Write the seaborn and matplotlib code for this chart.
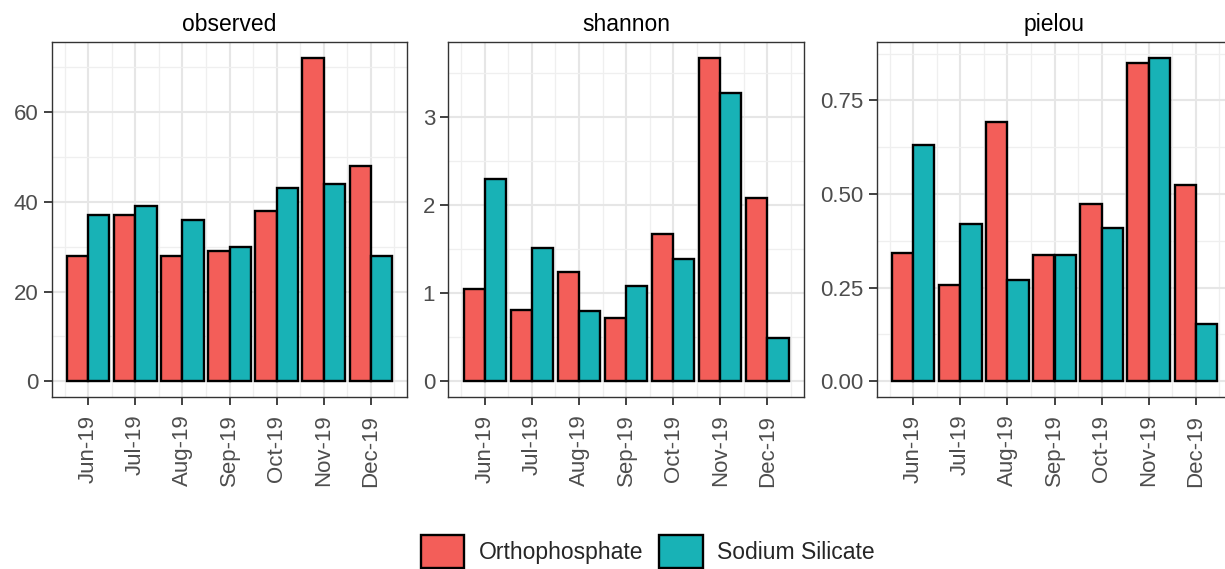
import matplotlib
matplotlib.use("Agg")
import matplotlib.pyplot as plt
import matplotlib.ticker as mticker
from matplotlib.patches import Patch
import seaborn as sns
import pandas as pd

months = ["Jun-19", "Jul-19", "Aug-19", "Sep-19", "Oct-19", "Nov-19", "Dec-19"]
treatments = ["Orthophosphate", "Sodium Silicate"]
metrics = ["observed", "shannon", "pielou"]

observed_ortho = [28, 37, 28, 29, 38, 72, 48]
observed_sodium = [37, 39, 36, 30, 43, 44, 28]
shannon_ortho = [1.05, 0.81, 1.24, 0.72, 1.67, 3.66, 2.08]
shannon_sodium = [2.29, 1.51, 0.80, 1.08, 1.39, 3.27, 0.49]
pielou_ortho = [0.342, 0.258, 0.692, 0.338, 0.473, 0.851, 0.524]
pielou_sodium = [0.632, 0.419, 0.269, 0.338, 0.410, 0.862, 0.153]

colors = {"Orthophosphate": "#F35E59", "Sodium Silicate": "#18B2B6"}

series = {
    "observed": (observed_ortho, observed_sodium),
    "shannon": (shannon_ortho, shannon_sodium),
    "pielou": (pielou_ortho, pielou_sodium),
}

rows = []
for m in metrics:
    o, s = series[m]
    for mo, vo, vs in zip(months, o, s):
        rows.append((m, mo, treatments[0], vo))
        rows.append((m, mo, treatments[1], vs))
df = pd.DataFrame(rows, columns=["metric", "month", "treatment", "value"])

sns.set_style("white")
plt.rcParams["font.family"] = ["Liberation Sans", "DejaVu Sans"]

W, H = 1225, 569
fig = plt.figure(figsize=(W / 100, H / 100), dpi=100)

panel_lefts = [51.7, 448.3, 876.7]
panel_w = 355.6
top, bottom = 42.3, 397.3

major_steps = {"observed": 20, "shannon": 1, "pielou": 0.25}
fmts = {"observed": "%d", "shannon": "%d", "pielou": "%.2f"}

for m, lx in zip(metrics, panel_lefts):
    ax = fig.add_axes([lx / W, 1 - bottom / H, panel_w / W, (bottom - top) / H])
    sub = df[df.metric == m]
    sns.barplot(data=sub, x="month", y="value", hue="treatment", order=months,
                hue_order=treatments, palette=colors, width=0.9, dodge=True,
                edgecolor="black", linewidth=1.7, saturation=1, ax=ax, legend=False)
    vmax = sub["value"].max()
    ax.set_ylim(-0.05 * vmax, 1.05 * vmax)
    ax.set_xlim(-0.777, 6.777)
    step = major_steps[m]
    ax.yaxis.set_major_locator(mticker.MultipleLocator(step))
    ax.yaxis.set_minor_locator(mticker.MultipleLocator(step / 2))
    ax.yaxis.set_major_formatter(mticker.FormatStrFormatter(fmts[m]))
    ax.xaxis.set_minor_locator(mticker.FixedLocator([i - 0.5 for i in range(8)]))
    ax.set_axisbelow(True)
    ax.grid(which="major", color="#E6E6E6", linewidth=1.5)
    ax.grid(which="minor", color="#EFEFEF", linewidth=0.9)
    ax.set_xlabel("")
    ax.set_ylabel("")
    ax.set_title(m, fontsize=16.5, pad=8, color="black")
    for sp in ax.spines.values():
        sp.set_color("#333333")
        sp.set_linewidth(1.0)
        sp.set_visible(True)
    ax.tick_params(which="major", length=5.5, width=1.3, color="#333333",
                   labelsize=16, labelcolor="#4D4D4D", pad=4,
                   bottom=True, left=True)
    ax.tick_params(axis="x", which="major", pad=7)
    ax.tick_params(which="minor", length=0)
    ax.set_xticks(range(len(months)))
    ax.set_xticklabels(months, rotation=90, va="top", ha="center")

handles = [Patch(facecolor=colors[t], edgecolor="black", linewidth=1.7, label=t)
           for t in treatments]
fig.legend(handles=handles, loc="center", bbox_to_anchor=(648 / W, 1 - 551.5 / H),
           ncol=2, frameon=False, fontsize=16.5, handlelength=1.88, handleheight=1.88,
           handletextpad=0.65, columnspacing=0.7, borderpad=0)

fig.savefig("out.png", dpi=100)
